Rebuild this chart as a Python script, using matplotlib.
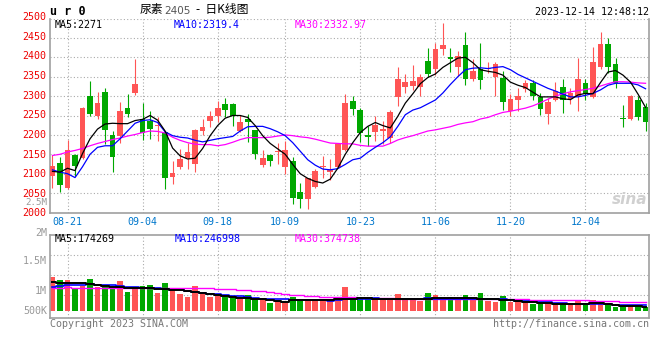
import numpy as np
import matplotlib.pyplot as plt
from matplotlib.transforms import ScaledTranslation

# daily bars 08-17 .. 12-14
opens = [2094, 2127, 2062, 2148, 2141, 2301, 2249, 2310, 2199, 2197,
         2269, 2309, 2240, 2237, 2222, 2208, 2092, 2117, 2141, 2126,
         2210, 2236, 2250, 2280, 2280, 2211, 2241, 2213, 2122, 2148,
         2155, 2116, 2134, 2054, 2036, 2067, 2117, 2105, 2118, 2161,
         2287, 2264, 2200, 2208, 2211, 2193, 2297, 2324, 2326, 2324,
         2390, 2370, 2422, 2401, 2376, 2432, 2343, 2371, 2369, 2348,
         2347, 2262, 2290, 2318, 2333, 2298, 2254, 2290, 2324, 2292,
         2297, 2335, 2298, 2376, 2434, 2384, 2243, 2240, 2290, 2271]
closes = [2121, 2072, 2160, 2121, 2269, 2253, 2283, 2213, 2142, 2262,
          2253, 2331, 2204, 2215, 2224, 2090, 2103, 2138, 2155, 2213,
          2221, 2249, 2270, 2264, 2249, 2232, 2234, 2152, 2140, 2134,
          2158, 2161, 2038, 2034, 2088, 2108, 2120, 2109, 2176, 2281,
          2267, 2206, 2194, 2225, 2215, 2260, 2344, 2336, 2340, 2350,
          2357, 2422, 2432, 2396, 2403, 2343, 2365, 2341, 2372, 2384,
          2286, 2292, 2300, 2333, 2300, 2267, 2284, 2313, 2290, 2309,
          2344, 2305, 2389, 2434, 2376, 2333, 2240, 2300, 2247, 2234]
highs = [2148, 2142, 2187, 2150, 2272, 2340, 2311, 2321, 2210, 2286,
         2305, 2396, 2283, 2262, 2245, 2210, 2133, 2164, 2178, 2215,
         2242, 2262, 2287, 2296, 2281, 2251, 2253, 2213, 2161, 2152,
         2178, 2183, 2142, 2077, 2090, 2112, 2146, 2139, 2180, 2305,
         2300, 2270, 2223, 2248, 2236, 2263, 2374, 2357, 2380, 2357,
         2425, 2437, 2488, 2423, 2417, 2464, 2396, 2436, 2389, 2387,
         2364, 2305, 2322, 2341, 2341, 2307, 2296, 2337, 2344, 2320,
         2399, 2344, 2427, 2466, 2450, 2399, 2277, 2302, 2300, 2281]
lows = [2064, 2052, 2061, 2095, 2138, 2249, 2240, 2176, 2105, 2178,
        2245, 2302, 2187, 2189, 2183, 2060, 2073, 2113, 2112, 2105,
        2200, 2220, 2234, 2247, 2223, 2208, 2182, 2138, 2117, 2121,
        2125, 2098, 2021, 2011, 2008, 2062, 2090, 2085, 2115, 2158,
        2252, 2181, 2172, 2185, 2176, 2178, 2274, 2309, 2315, 2299,
        2350, 2354, 2406, 2363, 2352, 2329, 2340, 2318, 2360, 2300,
        2264, 2249, 2262, 2310, 2290, 2251, 2228, 2287, 2257, 2280,
        2262, 2290, 2295, 2370, 2359, 2320, 2221, 2238, 2238, 2211]

ma5 = [2106, 2104, 2114, 2108, 2152, 2190, 2215, 2228, 2230, 2229,
       2229, 2237, 2240, 2250, 2238, 2210, 2166, 2146, 2138, 2140,
       2165, 2198, 2224, 2243, 2250, 2250, 2245, 2224, 2198, 2178,
       2164, 2150, 2124, 2100, 2088, 2080, 2076, 2086, 2114, 2150,
       2180, 2206, 2222, 2232, 2224, 2218, 2248, 2282, 2306, 2332,
       2348, 2357, 2374, 2386, 2398, 2400, 2386, 2368, 2364, 2361,
       2354, 2336, 2328, 2322, 2310, 2298, 2298, 2298, 2293, 2291,
       2303, 2307, 2306, 2335, 2362, 2366, 2354, 2336, 2305, 2271]
ma10 = [2110, 2104, 2100, 2090, 2118, 2150, 2168, 2172, 2172, 2190,
        2210, 2230, 2237, 2239, 2232, 2208, 2198, 2194, 2192, 2186,
        2182, 2186, 2190, 2193, 2196, 2210, 2221, 2222, 2222, 2216,
        2208, 2198, 2180, 2158, 2136, 2122, 2112, 2110, 2113, 2124,
        2136, 2140, 2155, 2168, 2180, 2195, 2222, 2252, 2264, 2270,
        2280, 2290, 2308, 2330, 2350, 2368, 2372, 2373, 2371, 2374,
        2376, 2368, 2356, 2347, 2338, 2329, 2320, 2313, 2305, 2298,
        2298, 2302, 2307, 2316, 2328, 2333, 2333, 2333, 2329, 2319]
ma30 = [2147, 2150, 2156, 2160, 2165, 2172, 2178, 2183, 2188, 2192,
        2197, 2201, 2206, 2210, 2209, 2205, 2194, 2186, 2180, 2176,
        2175, 2175, 2172, 2175, 2181, 2188, 2193, 2193, 2193, 2194,
        2197, 2200, 2198, 2195, 2193, 2189, 2184, 2179, 2178, 2177,
        2177, 2173, 2171, 2171, 2171, 2178, 2187, 2193, 2198, 2204,
        2210, 2213, 2217, 2221, 2227, 2231, 2234, 2241, 2245, 2252,
        2258, 2261, 2265, 2269, 2275, 2283, 2292, 2300, 2306, 2311,
        2314, 2317, 2320, 2326, 2332, 2337, 2337, 2336, 2334, 2333]

# volume, thousands
vol = [1360, 1228, 1228, 892, 988, 1268, 932, 932, 892, 1188,
       760, 932, 988, 1028, 720, 1120, 800, 680, 560, 988,
       760, 560, 600, 532, 492, 468, 628, 452, 468, 320,
       400, 360, 560, 400, 480, 480, 400, 480, 520, 960,
       560, 492, 468, 520, 468, 468, 668, 492, 468, 400,
       708, 628, 468, 548, 520, 628, 492, 708, 388, 348,
       588, 360, 360, 360, 268, 360, 292, 292, 252, 268,
       400, 252, 428, 292, 292, 160, 188, 228, 188, 160]
vol_ma5 = [1132, 1128, 1120, 1104, 1092, 1060, 1020, 980, 940, 940,
           928, 920, 904, 892, 860, 852, 832, 820, 780, 740,
           720, 680, 628, 580, 532, 512, 492, 480, 460, 432,
           380, 360, 428, 428, 428, 428, 428, 428, 452, 468,
           480, 492, 492, 480, 468, 452, 452, 460, 468, 468,
           480, 500, 520, 520, 520, 520, 500, 480, 460, 452,
           440, 428, 400, 360, 340, 300, 292, 280, 268, 268,
           268, 280, 292, 292, 280, 240, 208, 188, 176, 165]
vol_ma10 = [960, 980, 1020, 1032, 1048, 1052, 1040, 1028, 1028, 1000,
            960, 932, 920, 908, 892, 860, 828, 812, 788, 760,
            720, 680, 660, 620, 600, 580, 560, 520, 480, 468,
            452, 452, 428, 428, 428, 420, 412, 400, 428, 452,
            468, 480, 488, 492, 488, 480, 480, 480, 480, 488,
            492, 488, 480, 480, 480, 480, 480, 480, 472, 468,
            452, 428, 400, 372, 360, 360, 340, 320, 292, 280,
            268, 260, 252, 252, 252, 240, 232, 228, 220, 212]
vol_ma30 = [892, 912, 932, 928, 924, 920, 920, 920, 916, 912,
            908, 908, 904, 900, 896, 892, 892, 892, 892, 892,
            892, 892, 880, 872, 868, 848, 828, 800, 772, 740,
            700, 672, 640, 612, 592, 580, 568, 560, 552, 544,
            536, 528, 520, 512, 500, 492, 488, 484, 480, 480,
            480, 480, 480, 480, 480, 480, 480, 476, 472, 468,
            464, 460, 456, 452, 448, 444, 440, 436, 432, 428,
            420, 412, 400, 392, 384, 376, 368, 360, 348, 340]

tick_pos = [2, 12, 22, 31, 41, 51, 61, 71]
tick_labels = ['08-21', '09-04', '09-18', '10-09', '10-23', '11-06', '11-20', '12-04']
price_ticks = list(range(2000, 2501, 50))

RED = '#ff5555'
GREEN = '#00a800'
GRID = '#aaaaaa'
EDGE = '#a0a0a0'
MONO = 'DejaVu Sans Mono'
FS = 7.2

fig = plt.figure(figsize=(6.6, 3.6), dpi=100)


def fx(x):
    return x / 660


def fy(y):
    return 1 - y / 360


ax = fig.add_axes([fx(50), fy(212.5), 599.3 / 660, 194 / 360])
axv = fig.add_axes([fx(50), fy(318.3), 599.3 / 660, 83.3 / 360])

x = np.arange(len(closes))
o = np.array(opens)
c = np.array(closes)
cols = np.where(c >= o, RED, GREEN)

# price panel
ax.vlines(x, lows, highs, colors=cols, linewidth=0.8, zorder=2)
ax.bar(x, np.maximum(np.abs(c - o), 2.6), bottom=np.minimum(o, c), width=0.76,
       color=cols, linewidth=0, zorder=3)
ax.plot(x, ma30, color='#ff00ff', lw=0.9, zorder=4)
ax.plot(x, ma10, color='#0000ff', lw=0.9, zorder=4)
ax.plot(x, ma5, color='black', lw=0.9, zorder=4)

ax.set_xlim(-0.333, 79.5)
ax.set_ylim(2000, 2500)
ax.set_yticks(price_ticks)
ax.set_yticklabels([str(v) for v in price_ticks])
ax.set_xticks(tick_pos)
ax.set_xticklabels(tick_labels)
ax.tick_params(axis='y', length=0, pad=2.5, labelcolor='#ee0000', labelsize=FS)
ax.tick_params(axis='x', length=0, pad=3.5, labelcolor='#0077cc', labelsize=FS)
for lab in ax.get_yticklabels() + ax.get_xticklabels():
    lab.set_fontfamily(MONO)
# the source spaces its labels a little wider than its grid
for v, lab in zip(price_ticks, ax.get_yticklabels()):
    up = (v - 2000) / 500 * 2.5
    lab.set_transform(lab.get_transform() + ScaledTranslation(0, up / 100, fig.dpi_scale_trans))
ax.grid(True, color=GRID, linestyle=(0, (1, 2)), linewidth=0.8)
ax.set_axisbelow(True)
ax.spines['top'].set_visible(False)
for s in ['left', 'right', 'bottom']:
    ax.spines[s].set_color(EDGE)
    ax.spines[s].set_linewidth(1.2)

# volume panel
axv.bar(x, vol, width=0.76, color=cols, linewidth=0, zorder=2)
axv.plot(x, vol_ma30, color='#ff00ff', lw=1.0, drawstyle='steps-mid', zorder=3)
axv.plot(x, vol_ma10, color='#0000ff', lw=1.2, drawstyle='steps-mid', zorder=3)
axv.plot(x, vol_ma5, color='black', lw=1.4, drawstyle='steps-mid', zorder=3)
axv.set_xlim(-0.333, 79.5)
axv.set_ylim(-304, 3028)
axv.set_xticks(tick_pos)
axv.set_yticks([616, 1416, 2216])
axv.set_xticklabels([])
axv.set_yticklabels([])
axv.tick_params(length=0)
axv.grid(True, color=GRID, linestyle=(0, (1, 2)), linewidth=0.8)
axv.set_axisbelow(True)
for s in axv.spines.values():
    s.set_color(EDGE)
    s.set_linewidth(1.2)

# volume axis labels (as drawn by the source)
for lab, yy, fs in [('2.5M', 202.5, 6.6), ('2M', 233, FS), ('1.5M', 261, FS),
                    ('1M', 291, FS), ('500K', 311, FS)]:
    fig.text(fx(47), fy(yy), lab, ha='right', va='center', color='#999999',
             fontsize=fs, family=MONO)

# headers
fig.text(fx(50), fy(11.5), 'u r 0', ha='left', va='center', fontsize=8.5,
         family=MONO, fontweight='bold', color='black')
fig.text(fx(140), fy(10), '尿素', ha='left', va='center', fontsize=8.5,
         family=['Noto Sans CJK SC', 'DejaVu Sans'], color='black')
fig.text(fx(164), fy(10.5), '2405', ha='left', va='center', fontsize=7.5,
         family='DejaVu Sans', color='#555555')
fig.text(fx(196), fy(10), '-  日K线图', ha='left', va='center', fontsize=8.5,
         family=['Noto Sans CJK SC', 'DejaVu Sans'], color='black')
fig.text(fx(649), fy(11.7), '2023-12-14 12:48:12', ha='right', va='center',
         fontsize=FS, family=MONO, color='black')

fig.text(fx(55), fy(24.5), 'MA5:2271', ha='left', va='center', fontsize=FS, family=MONO, color='black')
fig.text(fx(174), fy(24.5), 'MA10:2319.4', ha='left', va='center', fontsize=FS, family=MONO, color='#0000ff')
fig.text(fx(295), fy(24.5), 'MA30:2332.97', ha='left', va='center', fontsize=FS, family=MONO, color='#ff00ff')

fig.text(fx(55), fy(238.5), 'MA5:174269', ha='left', va='center', fontsize=FS, family=MONO, color='black')
fig.text(fx(175), fy(238.5), 'MA10:246998', ha='left', va='center', fontsize=FS, family=MONO, color='#0000ff')
fig.text(fx(295), fy(238.5), 'MA30:374738', ha='left', va='center', fontsize=FS, family=MONO, color='#ff00ff')

fig.text(fx(50), fy(323.7), 'Copyright 2023 SINA.COM', ha='left', va='center',
         fontsize=FS, family=MONO, color='#777777')
fig.text(fx(649), fy(323.7), 'http://finance.sina.com.cn', ha='right', va='center',
         fontsize=FS, family=MONO, color='#777777')

# watermark
fig.text(fx(647), fy(200), 'sina', ha='right', va='center', fontsize=11,
         style='italic', fontweight='bold', color='#d0d0d0', family='DejaVu Sans')

fig.savefig('out.png', dpi=100)
